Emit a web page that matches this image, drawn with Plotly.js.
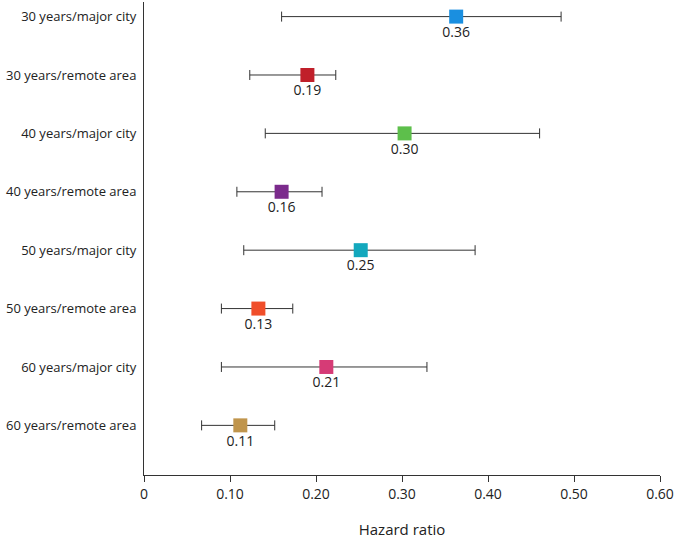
<!DOCTYPE html>
<html>
<head>
<script src="https://cdn.plot.ly/plotly-3.0.1.min.js"></script>
<style>body{margin:0;background:#fff}</style>
</head>
<body>
<div id="chart" style="width:680px;height:542px"></div>
<script>
var groups = ['30 years/major city', '30 years/remote area', '40 years/major city', '40 years/remote area',
              '50 years/major city', '50 years/remote area', '60 years/major city', '60 years/remote area'];
var hazard = [0.36, 0.19, 0.30, 0.16, 0.25, 0.13, 0.21, 0.11];
var plotPos = [0.363, 0.19, 0.303, 0.16, 0.252, 0.133, 0.212, 0.112];
var lower = [0.16, 0.123, 0.141, 0.108, 0.116, 0.09, 0.09, 0.067];
var upper = [0.485, 0.223, 0.460, 0.207, 0.385, 0.173, 0.329, 0.152];
var colors = ['#1a8fe0', '#c01f2a', '#5dbf4b', '#7b2b8c', '#13a8bd', '#f04e2a', '#d63b76', '#c0954c'];
var xTicks = [0, 0.1, 0.2, 0.3, 0.4, 0.5, 0.6];
var xTickText = ['0', '0.10', '0.20', '0.30', '0.40', '0.50', '0.60'];

var rows = groups.map(function (g, i) { return i; });

var data = [{
    type: 'scatter',
    mode: 'markers+text',
    x: plotPos,
    y: rows,
    text: hazard.map(function (v) { return v.toFixed(2); }),
    textposition: 'bottom center',
    textfont: {family: 'Open Sans', size: 14, color: '#222'},
    marker: {symbol: 'square', size: 14, color: colors},
    error_x: {
        type: 'data',
        symmetric: false,
        array: upper.map(function (u, i) { return u - plotPos[i]; }),
        arrayminus: lower.map(function (l, i) { return plotPos[i] - l; }),
        color: '#333',
        thickness: 1,
        width: 5
    },
    cliponaxis: false,
    hoverinfo: 'x+y'
}];

var layout = {
    width: 680,
    height: 542,
    margin: {l: 144, r: 20, t: 2, b: 67},
    showlegend: false,
    paper_bgcolor: '#fff',
    plot_bgcolor: '#fff',
    font: {family: 'Open Sans', size: 13, color: '#222'},
    xaxis: {
        range: [0, 0.6],
        tickvals: xTicks,
        ticktext: xTickText,
        ticks: 'outside',
        ticklen: 6,
        tickcolor: '#333',
        showline: true,
        linecolor: '#333',
        showgrid: false,
        zeroline: false,
        tickfont: {size: 14},
        title: {text: 'Hazard ratio', font: {size: 15}, standoff: 22}
    },
    yaxis: {
        range: [7.85, -0.25],
        tickvals: rows,
        ticktext: groups,
        ticks: '',
        showline: true,
        linecolor: '#333',
        showgrid: false,
        zeroline: false,
        tickfont: {size: 13},
        ticklabelstandoff: 4
    }
};

Plotly.newPlot('chart', data, layout, {displayModeBar: false});
</script>
</body>
</html>
